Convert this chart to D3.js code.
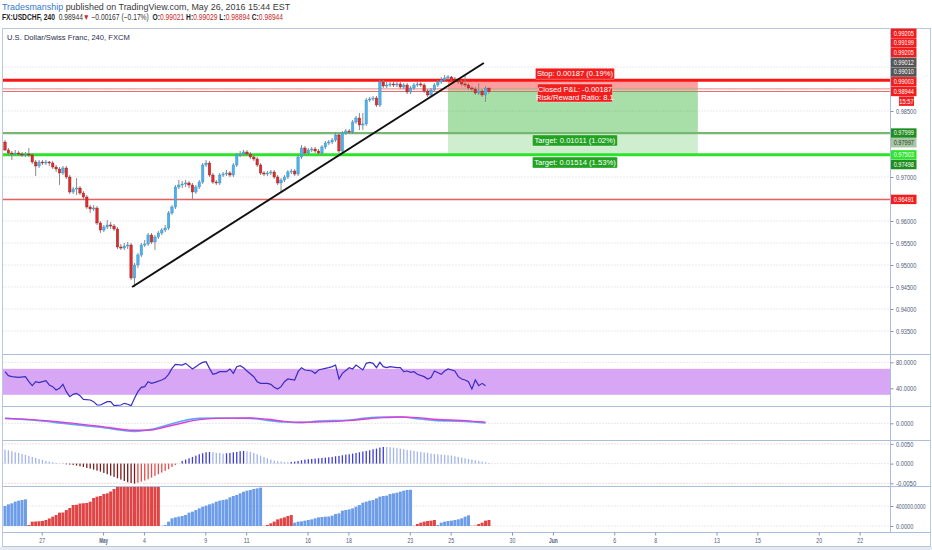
<!DOCTYPE html>
<html>
<head>
<meta charset="utf-8">
<title>FX:USDCHF 240</title>
<script src="https://cdn.jsdelivr.net/npm/d3@7/dist/d3.min.js"></script>
<style>
  body { margin: 0; background: #fff; }
  svg { display: block; }
  text { white-space: pre; }
</style>
</head>
<body>
<script>
// ---- data (4h candles, FX:USDCHF, Apr 25 - May 26 2016) ----
const firstOpen = 0.97795;
const closes = [
  0.97614,0.97545,0.97523,0.97545,0.97523,0.97500,0.97523,0.97500,0.97341,0.97250,
  0.97341,0.97318,0.97341,0.97318,0.97227,0.97182,0.97091,0.97205,0.97000,0.96659,
  0.96727,0.96750,0.96636,0.96545,0.96318,0.96273,0.96295,0.95955,0.95795,0.95864,
  0.95909,0.95886,0.95818,0.95409,0.95386,0.95432,0.95455,0.94705,0.95000,0.95227,
  0.95455,0.95477,0.95682,0.95523,0.95636,0.95727,0.95795,0.95841,0.96182,0.96318,
  0.96773,0.96818,0.96841,0.96864,0.96818,0.96659,0.96773,0.96886,0.97273,0.97318,
  0.97045,0.96886,0.96864,0.97045,0.97068,0.97091,0.97045,0.97273,0.97500,0.97523,
  0.97568,0.97523,0.97455,0.97409,0.97273,0.97091,0.97068,0.97091,0.97114,0.97000,
  0.96864,0.96932,0.97000,0.97114,0.97136,0.97068,0.97455,0.97659,0.97545,0.97614,
  0.97636,0.97591,0.97545,0.97682,0.97773,0.97795,0.97841,0.97955,0.97591,0.98000,
  0.98045,0.98023,0.98250,0.98341,0.98182,0.98205,0.98750,0.98773,0.98795,0.98636,
  0.99159,0.99068,0.99091,0.99114,0.99091,0.99114,0.99045,0.99091,0.98932,0.99023,
  0.99091,0.99114,0.99091,0.98955,0.98864,0.98977,0.99091,0.99159,0.99205,0.99250,
  0.99273,0.99227,0.99205,0.99159,0.99114,0.99091,0.99023,0.99000,0.98909,0.98955,
  0.98864,0.99021,0.98944];
const highs = [
  0.97841,0.97659,0.97591,0.97614,0.97591,0.97568,0.97568,0.97659,0.97545,0.97386,
  0.97386,0.97386,0.97386,0.97364,0.97364,0.97273,0.97227,0.97250,0.97250,0.97045,
  0.96773,0.96977,0.96795,0.96682,0.96591,0.96364,0.96364,0.96341,0.96000,0.95909,
  0.96023,0.95977,0.95932,0.95864,0.95477,0.95500,0.95523,0.95500,0.95045,0.95273,
  0.95500,0.95568,0.95727,0.95727,0.95682,0.95773,0.95841,0.95909,0.96227,0.96364,
  0.96818,0.96932,0.96909,0.96932,0.96909,0.96864,0.96818,0.96932,0.97318,0.97386,
  0.97364,0.97091,0.96932,0.97091,0.97114,0.97159,0.97136,0.97318,0.97545,0.97591,
  0.97614,0.97614,0.97568,0.97500,0.97455,0.97318,0.97136,0.97136,0.97159,0.97159,
  0.97045,0.96977,0.97045,0.97159,0.97182,0.97182,0.97500,0.97727,0.97705,0.97659,
  0.97682,0.97682,0.97636,0.97727,0.97818,0.97841,0.97886,0.98023,0.98000,0.98045,
  0.98091,0.98091,0.98295,0.98386,0.98455,0.98455,0.98795,0.98818,0.98841,0.98841,
  0.99205,0.99205,0.99159,0.99159,0.99159,0.99159,0.99159,0.99136,0.99136,0.99068,
  0.99136,0.99159,0.99159,0.99136,0.99000,0.99023,0.99136,0.99205,0.99273,0.99318,
  0.99318,0.99295,0.99273,0.99250,0.99205,0.99295,0.99136,0.99068,0.99045,0.99136,
  0.99000,0.99068,0.99029];
const lows = [
  0.97591,0.97477,0.97386,0.97477,0.97477,0.97455,0.97455,0.97455,0.97295,0.97023,
  0.97205,0.97273,0.97273,0.97250,0.97182,0.97114,0.96818,0.97045,0.96955,0.96614,
  0.96614,0.96591,0.96591,0.96500,0.96273,0.96182,0.96227,0.95909,0.95727,0.95750,
  0.95818,0.95818,0.95773,0.95364,0.95341,0.95341,0.95364,0.94659,0.94500,0.94932,
  0.95182,0.95409,0.95432,0.95477,0.95341,0.95591,0.95682,0.95750,0.95795,0.96136,
  0.96273,0.96727,0.96750,0.96773,0.96750,0.96477,0.96614,0.96727,0.96841,0.97227,
  0.97000,0.96841,0.96818,0.96818,0.97000,0.97023,0.97000,0.97000,0.97227,0.97455,
  0.97477,0.97477,0.97409,0.97364,0.97227,0.97045,0.97023,0.97023,0.97045,0.96955,
  0.96818,0.96659,0.96886,0.96955,0.97068,0.97023,0.97023,0.97409,0.97500,0.97500,
  0.97568,0.97545,0.97500,0.97500,0.97636,0.97727,0.97750,0.97795,0.97545,0.97545,
  0.97955,0.97977,0.97977,0.98205,0.98068,0.98068,0.98159,0.98705,0.98727,0.98591,
  0.98591,0.99023,0.99023,0.99045,0.99045,0.99045,0.99000,0.99000,0.98886,0.98886,
  0.98977,0.99045,0.99045,0.98909,0.98818,0.98818,0.98932,0.99045,0.99114,0.99159,
  0.99205,0.99182,0.99159,0.99114,0.99068,0.99045,0.98977,0.98955,0.98864,0.98864,
  0.98818,0.98705,0.98894];

// RSI(14): bar index and value
const rsiBars = [0,1,2,4,6,7,8,9,10,11,12,13,14,15,16,17,18,19,20,21,22,23,25,26,27,28,30,31,32,34,
  35,36,37,38,39,40,41,42,43,44,46,47,48,49,50,52,53,55,56,57,58,59,60,61,62,63,65,66,67,68,
  69,70,71,73,74,75,77,78,79,80,81,82,83,85,86,87,88,90,91,92,94,95,96,97,98,99,101,102,103,105,
  106,107,108,109,110,111,112,113,115,116,117,118,119,120,121,123,124,125,126,128,129,130,132,133,134,135,
  136,137,138,139,140,141];
const rsiValues = [65.6,59.4,57.9,56.9,57.9,50.2,44.1,50.2,48.7,50.2,51.7,45.1,42.5,37.4,39.9,46.1,34.8,27.1,30.7,32.3,
  28.7,23.0,22.0,19.4,14.3,14.3,19.4,19.4,13.3,14.3,16.9,15.5,13.3,24.6,34.8,41.5,42.5,50.2,47.6,49.2,
  52.8,55.3,61.5,70.7,76.9,75.8,78.4,69.7,73.3,76.9,79.9,81.0,70.7,61.5,63.0,65.6,65.6,69.7,63.0,73.3,
  74.8,71.7,66.6,57.9,50.2,47.6,47.6,46.1,41.5,38.9,42.5,50.2,54.3,52.8,65.6,71.7,68.2,66.6,63.0,68.2,
  70.7,71.7,73.3,75.8,54.3,63.0,71.7,69.7,75.8,68.2,78.4,79.9,78.4,71.7,79.9,73.3,71.7,73.3,71.7,71.7,
  65.6,66.6,64.6,65.6,61.5,57.9,54.3,56.4,66.6,61.5,66.6,69.7,66.6,57.9,54.3,52.8,50.2,38.9,52.8,44.1,
  47.6,44.1];

// slow MACD lines (sampled)
const macdBars = [0,8,18,28,38,43,47,52,57,62,72,77,82,87,91,101,106,111,116,121,126,135,141];
const macdLine = [0.00126,0.00084,-0.00009,-0.00102,-0.00204,-0.00153,-0.00060,0.00058,0.00126,0.00135,0.00126,0.00075,
  0.00033,0.00016,0.00050,0.00084,0.00135,0.00160,0.00160,0.00118,0.00075,0.00050,0.00008];
const signalLine = [0.00126,0.00092,0.00016,-0.00077,-0.00178,-0.00170,-0.00094,0.00008,0.00092,0.00126,0.00135,0.00101,
  0.00050,0.00025,0.00033,0.00067,0.00109,0.00143,0.00160,0.00143,0.00101,0.00067,0.00025];

// MACD histogram, one value per bar
const histValues = [
  0.00355,0.00338,0.00313,0.00288,0.00271,0.00245,0.00220,0.00195,0.00169,0.00144,
  0.00118,0.00093,0.00068,0.00051,0.00034,0.00017,0.00008,-0.00005,-0.00017,-0.00025,
  -0.00034,-0.00051,-0.00068,-0.00085,-0.00110,-0.00127,-0.00152,-0.00178,-0.00203,-0.00237,
  -0.00271,-0.00305,-0.00338,-0.00372,-0.00406,-0.00440,-0.00474,-0.00491,-0.00508,-0.00482,
  -0.00457,-0.00431,-0.00398,-0.00355,-0.00313,-0.00271,-0.00228,-0.00186,-0.00144,-0.00085,
  -0.00034,-0.00002,0.00068,0.00102,0.00135,0.00169,0.00203,0.00237,0.00262,0.00288,
  0.00296,0.00288,0.00271,0.00268,0.00254,0.00262,0.00271,0.00288,0.00296,0.00313,
  0.00321,0.00313,0.00296,0.00271,0.00237,0.00203,0.00169,0.00135,0.00102,0.00076,
  0.00059,0.00051,0.00042,0.00034,0.00042,0.00051,0.00068,0.00085,0.00102,0.00110,
  0.00118,0.00127,0.00135,0.00144,0.00152,0.00161,0.00169,0.00186,0.00195,0.00212,
  0.00228,0.00237,0.00254,0.00271,0.00288,0.00305,0.00321,0.00338,0.00364,0.00381,
  0.00406,0.00423,0.00420,0.00415,0.00406,0.00389,0.00381,0.00364,0.00347,0.00338,
  0.00321,0.00305,0.00296,0.00279,0.00271,0.00254,0.00245,0.00237,0.00228,0.00220,
  0.00212,0.00203,0.00186,0.00169,0.00152,0.00135,0.00118,0.00102,0.00085,0.00068,
  0.00051,0.00034,0.00017];

// accumulated volume, one value per bar
const volValues = [
  400000,433000,453000,487000,507000,520000,533000,
  20000,87000,90000,95000,100000,120000,150000,187000,220000,267000,270000,320000,360000,420000,
  425000,450000,455000,460000,487000,560000,587000,600000,640000,653000,690000,740000,780000,800000,
  820000,840000,900000,920000,930000,945000,960000,975000,990000,1005000,1020000,
  5000,20000,87000,153000,173000,187000,200000,220000,267000,287000,320000,353000,387000,407000,
  433000,453000,487000,507000,520000,533000,573000,600000,620000,653000,687000,707000,720000,740000,
  753000,767000,
  5000,20000,53000,87000,133000,153000,173000,200000,220000,
  67000,87000,93000,107000,120000,133000,153000,173000,180000,187000,190000,207000,240000,253000,
  307000,320000,333000,353000,387000,420000,467000,487000,507000,520000,553000,587000,600000,607000,
  640000,653000,667000,687000,707000,720000,725000,
  5000,40000,67000,87000,100000,107000,120000,
  20000,67000,87000,100000,107000,120000,133000,153000,187000,213000,
  5000,7000,40000,67000,107000,120000];
const volUpRuns = [[0, 6], [46, 75], [85, 119], [127, 136]];

// time axis: trading-day index from Apr 27 and its label
const dayTicks = [0, 3, 5, 8, 10, 13, 15, 18, 20, 23, 25, 28, 30, 33, 35, 38, 40];
const dayLabels = ["27", "May", "4", "9", "11", "16", "18", "23", "25", "30", "Jun", "6", "8", "13", "15", "20", "22"];
const priceTicks = [0.935, 0.940, 0.945, 0.950, 0.955, 0.960, 0.965, 0.970, 0.975, 0.980, 0.985, 0.990, 0.995];

// drawings
const hLines = [
  { price: 0.99199, color: "#ff1414", width: 3 },
  { price: 0.99003, color: "#ec8a8a", width: 1 },
  { price: 0.98944, color: "#e06a6a", width: 1 },
  { price: 0.97999, color: "#74b874", width: 2.2 },
  { price: 0.97503, color: "#2be32b", width: 3 },
  { price: 0.96491, color: "#e66060", width: 1.5 }
];
const trend = { bar1: 37.3, price1: 0.94500, bar2: 140.5, price2: 0.99591 };
const position = { startBar: 130, endBar: 203.3, entry: 0.99012, stop: 0.99199, targets: [0.98001, 0.97498] };
const positionTexts = {
  stop: "Stop: 0.00187 (0.19%)",
  pnl: ["Closed P&L: -0.00187", "Risk/Reward Ratio: 8.1"],
  targets: ["Target: 0.01011 (1.02%)", "Target: 0.01514 (1.53%)"]
};
const RED = "#f21e1e", DGREEN = "#1f8d1f", GRAY = "#565656";
const axisMarks = [
  { text: "0.99205", price: 0.99205, fill: RED },
  { text: "0.99199", price: 0.99199, fill: RED },
  { text: "0.99205", price: 0.99205, fill: RED },
  { text: "0.99012", price: 0.99012, fill: GRAY },
  { text: "0.99010", price: 0.99010, fill: GRAY },
  { text: "0.99003", price: 0.99003, fill: RED },
  { text: "0.98944", price: 0.98944, fill: RED, anchor: true },
  { text: "15:57", price: 0.98944, fill: RED, small: true },
  { text: "0.97999", price: 0.97999, fill: DGREEN },
  { text: "0.97997", price: 0.97997, fill: "#a8c6a3", color: "#2f3f2f" },
  { text: "0.97503", price: 0.97503, fill: "#2ee42e" },
  { text: "0.97498", price: 0.97498, fill: DGREEN },
  { text: "0.96491", price: 0.96491, fill: RED }
];

// ---- layout ----
const W = 932, H = 550;
const L = 2.5, R = 890.5;
const FONT = '"Liberation Sans", Arial, sans-serif';
const AXC = "#4c5b78", BORDER = "#a9bedb";
const pane = { price: [28.5, 354.5], rsi: [354.5, 406.5], macd: [406.5, 440.5], hist: [440.5, 486.5], vol: [486.5, 532.5] };

const svg = d3.select("body").append("svg")
  .attr("width", W).attr("height", H)
  .style("font-family", FONT);

svg.append("rect").attr("width", W).attr("height", H).attr("fill", "#fff");
svg.append("rect").attr("x", 0).attr("y", 547).attr("width", W).attr("height", 3).attr("fill", "#e3eaf3");

const x = d3.scaleLinear().domain([0, 142]).range([5, 5 + 142 * 3.408]);
const yPrice = d3.scaleLinear().domain([0.935, 0.995]).range([331, 67]);
const yRsi = d3.scaleLinear().domain([40, 80]).range([388.3, 362.3]);
const yMacd = d3.scaleLinear().domain([0, 0.001]).range([423.3, 419.36]);
const yHist = d3.scaleLinear().domain([-0.005, 0.005]).range([483.3, 443.9]);
const yVol = d3.scaleLinear().domain([0, 400000]).range([526, 506]);

// condensed axis lettering: squeeze each label horizontally around its own x
function condense(sel) {
  sel.each(function () {
    const t = d3.select(this);
    const x0 = +t.attr("x") || 0;
    const n = this.textContent.length;
    const target = n * (n > 8 ? 2.7 : 2.9);
    const w = this.getComputedTextLength();
    t.attr("x", 0).attr("transform", "translate(" + x0 + ",0) scale(" + (target / w) + ",1)");
  });
}
function paneGroup(id, p) {
  svg.append("clipPath").attr("id", id).append("rect")
    .attr("x", L).attr("y", p[0]).attr("width", R - L).attr("height", p[1] - p[0]);
  return svg.append("g").attr("clip-path", "url(#" + id + ")");
}
function dotted(g, y, color) {
  g.append("line").attr("x1", L).attr("x2", R).attr("y1", y).attr("y2", y)
    .attr("stroke", color || "#d2d2d2").attr("stroke-dasharray", "1,2");
}
function rightAxis(scale, values, fmt) {
  const g = svg.append("g").attr("transform", "translate(" + R + ",0)")
    .call(d3.axisRight(scale).tickValues(values).tickSize(3).tickPadding(2.5).tickFormat(fmt));
  g.select(".domain").remove();
  g.selectAll("line").attr("stroke", "#8595b0");
  g.selectAll("text").attr("fill", AXC).attr("font-size", 6.8).attr("font-family", FONT).call(condense);
  return g;
}

// ---- price pane ----
const candles = closes.map((c, i) => ({
  i: i, o: i === 0 ? firstOpen : closes[i - 1], h: highs[i], l: lows[i], c: c
}));

const gp = paneGroup("clipPrice", pane.price);
priceTicks.forEach(t => dotted(gp, yPrice(t)));

// position tool (two overlapping short positions)
const px0 = x(position.startBar), px1 = x(position.endBar);
position.targets.forEach(t => {
  gp.append("rect").attr("x", px0).attr("width", px1 - px0)
    .attr("y", yPrice(position.stop)).attr("height", yPrice(position.entry) - yPrice(position.stop))
    .attr("fill", "rgba(255,0,0,0.21)");
  gp.append("rect").attr("x", px0).attr("width", px1 - px0)
    .attr("y", yPrice(position.entry)).attr("height", yPrice(t) - yPrice(position.entry))
    .attr("fill", "rgba(0,160,0,0.19)");
});

hLines.forEach(h => {
  gp.append("line").attr("x1", L).attr("x2", R)
    .attr("y1", yPrice(h.price)).attr("y2", yPrice(h.price))
    .attr("stroke", h.color).attr("stroke-width", h.width);
});

const cg = gp.append("g");
cg.selectAll("line.wick").data(candles).enter().append("line")
  .attr("x1", d => x(d.i)).attr("x2", d => x(d.i))
  .attr("y1", d => yPrice(d.h)).attr("y2", d => yPrice(d.l))
  .attr("stroke", "#8a8a8a").attr("stroke-width", 1);
cg.selectAll("rect.body").data(candles).enter().append("rect")
  .attr("x", d => x(d.i) - 1.25).attr("width", 2.5)
  .attr("y", d => yPrice(Math.max(d.o, d.c)))
  .attr("height", d => Math.max(0.9, Math.abs(yPrice(d.o) - yPrice(d.c))))
  .attr("fill", d => d.c >= d.o ? "#51b1e6" : "#d82e2e")
  .attr("stroke", d => d.c >= d.o ? "#2f8fcf" : "#a31c1c").attr("stroke-width", 0.4);

gp.append("line")
  .attr("x1", x(trend.bar1)).attr("y1", yPrice(trend.price1))
  .attr("x2", x(trend.bar2)).attr("y2", yPrice(trend.price2))
  .attr("stroke", "#111").attr("stroke-width", 2);

// position labels
const pcx = (px0 + px1) / 2 + 2;
function labelBox(cx, top, w, h, fill, lines) {
  svg.append("rect").attr("x", cx - w / 2).attr("y", top).attr("width", w).attr("height", h)
    .attr("rx", 1).attr("fill", fill).attr("stroke", "rgba(255,255,255,0.6)").attr("stroke-width", 0.6);
  lines.forEach((t, k) => {
    svg.append("text").attr("x", cx).attr("y", top + 8.2 + k * 8)
      .attr("text-anchor", "middle").attr("fill", "#fff").attr("font-size", 7.6).text(t);
  });
}
labelBox(pcx, yPrice(position.stop) - 12, 79, 11, RED, [positionTexts.stop]);
labelBox(pcx, yPrice(position.entry) - 4.5, 75, 18, RED, positionTexts.pnl);
position.targets.forEach((t, k) => {
  labelBox(pcx, yPrice(t) + 2, 85, 11, "#22a322", [positionTexts.targets[k]]);
});

svg.append("text").attr("x", 7).attr("y", 39.5).attr("fill", "#1f2d4d").attr("font-size", 7.6)
  .text("U.S. Dollar/Swiss Franc, 240, FXCM");

// ---- RSI pane ----
const gr = paneGroup("clipRsi", pane.rsi);
dotted(gr, yRsi(80)); dotted(gr, yRsi(40));
gr.append("rect").attr("x", L).attr("width", R - L)
  .attr("y", yRsi(70)).attr("height", yRsi(30) - yRsi(70)).attr("fill", "#d7a7f6");
gr.append("path").datum(d3.zip(rsiBars, rsiValues))
  .attr("d", d3.line().x(d => x(d[0])).y(d => yRsi(d[1])))
  .attr("fill", "none").attr("stroke", "#3a2cc0").attr("stroke-width", 1.2);

// ---- MACD lines pane ----
const gm = paneGroup("clipMacd", pane.macd);
dotted(gm, yMacd(0));
const macdPath = d3.line().x(d => x(d[0])).y(d => yMacd(d[1])).curve(d3.curveMonotoneX);
gm.append("path").datum(d3.zip(macdBars, macdLine)).attr("d", macdPath)
  .attr("fill", "none").attr("stroke", "#55aaf0").attr("stroke-width", 1.6);
gm.append("path").datum(d3.zip(macdBars, signalLine)).attr("d", macdPath)
  .attr("fill", "none").attr("stroke", "#e23cd6").attr("stroke-width", 1.4);

// ---- histogram pane ----
const gh = paneGroup("clipHist", pane.hist);
dotted(gh, yHist(0.005), "#ebb6b6"); dotted(gh, yHist(0)); dotted(gh, yHist(-0.005), "#ebb6b6");
gh.selectAll("rect").data(histValues).enter().append("rect")
  .attr("x", (d, i) => x(i) - 0.65).attr("width", 1.3)
  .attr("y", d => yHist(Math.max(0, d)))
  .attr("height", d => Math.abs(yHist(d) - yHist(0)))
  .attr("fill", (d, i) => {
    const up = i > 0 && d > histValues[i - 1];
    if (d >= 0) return up ? "#3d3dd2" : "#a2b3ea";
    return up ? "#e64c4c" : "#781c1c";
  });

// ---- volume pane ----
const gv = paneGroup("clipVol", pane.vol);
dotted(gv, yVol(400000)); dotted(gv, yVol(0));
const isUp = i => volUpRuns.some(r => i >= r[0] && i <= r[1]);
gv.selectAll("rect").data(volValues).enter().append("rect")
  .attr("x", (d, i) => x(i) - 1.5).attr("width", 3.0)
  .attr("y", d => yVol(d)).attr("height", d => yVol(0) - yVol(d))
  .attr("fill", (d, i) => isUp(i) ? "#6d9de9" : "#e04545");

// ---- borders ----
[pane.price[1], pane.rsi[1], pane.macd[1], pane.hist[1], pane.vol[1]].forEach(y => {
  svg.append("line").attr("x1", L).attr("x2", 930.5).attr("y1", y).attr("y2", y).attr("stroke", BORDER);
});
svg.append("line").attr("x1", R).attr("x2", R).attr("y1", 28.5).attr("y2", pane.vol[1]).attr("stroke", BORDER);
svg.append("rect").attr("x", L).attr("y", 28.5).attr("width", 930.5 - L).attr("height", 518)
  .attr("fill", "none").attr("stroke", "#b7c8dd");

// ---- price-axis markers, stacked around the last price ----
const gap = 9.7;
const ys = axisMarks.map(m => yPrice(m.price));
const a = axisMarks.findIndex(m => m.anchor);
for (let k = a - 1; k >= 0; k--) ys[k] = Math.min(ys[k], ys[k + 1] - gap);
for (let k = a + 1; k < axisMarks.length; k++) ys[k] = Math.max(ys[k], ys[k - 1] + gap);

// ---- axes ----
// price ticks hidden behind a marker keep their grid line but lose their label
const freeTicks = priceTicks.filter(t => ys.every(y => Math.abs(y - yPrice(t)) > 7));
rightAxis(yPrice, freeTicks, d3.format(".5f"));
rightAxis(yRsi, [40, 80], d3.format(".4f"));
rightAxis(yMacd, [0], d3.format(".4f"));
rightAxis(yHist, [-0.005, 0, 0.005], d => d3.format(".4f")(d).replace("\u2212", "-"));
rightAxis(yVol, [0, 400000], d3.format(".4f"));

const xa = svg.append("g").attr("transform", "translate(0," + pane.vol[1] + ")")
  .call(d3.axisBottom(x).tickValues(dayTicks.map(d => 10.77 + 6 * d))
    .tickSize(3).tickFormat((d, i) => dayLabels[i]));
xa.select(".domain").remove();
xa.selectAll("line").attr("stroke", "#8595b0");
xa.selectAll("text").attr("fill", AXC).attr("font-size", 6.8).attr("font-family", FONT)
  .attr("font-weight", (d, i) => isNaN(+dayLabels[i]) ? "bold" : "normal").call(condense);

axisMarks.forEach((m, k) => {
  const x0 = m.small ? 899 : R + 0.5, w = m.small ? 15 : 25.5;
  svg.append("rect").attr("x", x0).attr("y", ys[k] - 4.7).attr("width", w).attr("height", 9.4)
    .attr("fill", m.fill);
  svg.append("text").attr("x", x0 + w / 2).attr("y", ys[k] + 2.4).attr("text-anchor", "middle")
    .attr("fill", m.color || "#fff").attr("font-size", 6.8).text(m.text).call(condense);
});

// ---- header ----
function headerLine(y, width, parts) {
  const t = svg.append("text").attr("font-size", 8.2);
  parts.forEach(p => t.append("tspan").attr("fill", p[1]).attr("font-weight", p[2] ? "bold" : "normal").text(p[0]));
  const w = t.node().getComputedTextLength();
  t.attr("transform", "translate(2," + y + ") scale(" + (width / w) + ",1)");
}
headerLine(9.5, 288, [["Tradesmanship", "#3479cc"], [" published on TradingView.com, May 26, 2016 15:44 EST", "#3a3a3a"]]);
headerLine(20, 281, [
  ["FX:USDCHF, 240", "#1e1e1e", true], ["  0.98944", "#333"], ["\u25BC", "#e01b1b"],
  [" \u22120.00167 (\u22120.17%)  ", "#333"],
  ["O:", "#1e1e1e", true], ["0.99021", "#c62a2a"], [" H:", "#1e1e1e", true], ["0.99029", "#c62a2a"],
  [" L:", "#1e1e1e", true], ["0.98894", "#c62a2a"], [" C:", "#1e1e1e", true], ["0.98944", "#c62a2a"]
]);
</script>
</body>
</html>
